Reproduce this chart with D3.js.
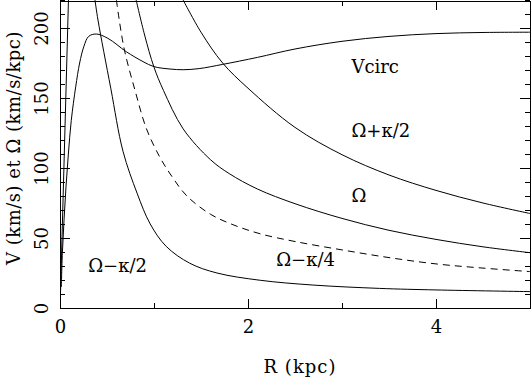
<!DOCTYPE html>
<html lang="en">
<meta charset="utf-8">
<style>
body { margin: 0; background: #fff; }
.axis path, .axis line { fill: none; stroke: #000; shape-rendering: crispEdges; }
.curve { fill: none; stroke: #000; stroke-width: 1; }
</style>
<body>
<script src="https://d3js.org/d3.v7.min.js"></script>
<script>
// chart size
var w = 531, h = 377;
var serif = "DejaVu Serif";
var fs = "18px";

// tick labels
var xTicks = [0, 2, 4];
var yTicks = [0, 50, 100, 150, 200];

// curves as [R, value]
var vcirc = [[0.014, 15], [0.025, 39], [0.043, 63], [0.064, 87], [0.089, 110], [0.12, 134],
  [0.167, 158], [0.209, 175], [0.255, 187], [0.305, 194], [0.386, 195.7], [0.51, 192.6],
  [0.707, 183], [0.883, 176], [1.0, 172.4], [1.17, 170.7], [1.31, 170.2], [1.48, 171],
  [1.73, 174], [2.1, 179], [2.5, 185], [3.0, 190.5], [3.5, 194], [4.0, 196], [4.5, 196.8], [5, 197]];

var omega = [[0.81, 220], [0.9, 195], [1.0, 172], [1.1, 155.5], [1.31, 128], [1.6, 106],
  [1.8, 96], [2.1, 85], [2.5, 74.5], [3, 64], [3.5, 55.5], [4, 49], [4.5, 43.7], [5, 39.5]];

var omegaPlusK2 = [[1.31, 220], [1.5, 197], [1.73, 175], [2.0, 157], [2.5, 129],
  [3, 109.5], [3.5, 95], [4, 84], [4.5, 75], [5, 67.5]];

var omegaMinusK4 = [[0.6, 220], [0.68, 186], [0.80, 155], [0.92, 128], [1.06, 108], [1.19, 94],
  [1.35, 80], [1.60, 67], [1.84, 59.5], [2.13, 53], [2.5, 47.5], [3, 41.5], [3.5, 36],
  [4, 31.5], [4.5, 28.5], [5, 26]];

// two pieces: it leaves the top of the frame near R=0.1 and comes back near R=0.37
var omegaMinusK2Inner = [[0.006, 12], [0.09, 220]];
var omegaMinusK2 = [[0.372, 220], [0.404, 205.7], [0.54, 157], [0.67, 112], [0.82, 82],
  [0.96, 60], [1.13, 44], [1.38, 32], [1.67, 25], [2.13, 19.8], [2.69, 16.4], [3.4, 14],
  [4, 12.9], [5, 11.7]];

var labels = [
  {t: "Vcirc", R: 3.1, v: 168},
  {t: "\u03A9+\u03BA/2", R: 3.1, v: 122},
  {t: "\u03A9", R: 3.1, v: 76},
  {t: "\u03A9\u2212\u03BA/4", R: 2.3, v: 30},
  {t: "\u03A9\u2212\u03BA/2", R: 0.3, v: 26}
];

var svg = d3.select("body").append("svg")
  .attr("width", w)
  .attr("height", h)
  .attr("font-family", serif);

var x = d3.scaleLinear().domain([0, 5]).range([60, 530]);
var y = d3.scaleLinear().domain([0, 220]).range([308, 0]);

svg.append("defs").append("clipPath").attr("id", "clip")
  .append("rect")
  .attr("x", x(0)).attr("y", y(220))
  .attr("width", x(5) - x(0)).attr("height", y(0) - y(220));

// axes, ticks pointing inward on all four sides
function noText(g) { g.selectAll("text").remove(); g.select(".domain").remove(); }
function serifText(g) {
  g.attr("font-family", serif).attr("font-size", null);
  g.selectAll("text").attr("fill", "#000").style("font-size", fs);
}

svg.append("g").attr("class", "axis")
  .attr("transform", "translate(0," + y(0) + ")")
  .call(d3.axisBottom(x).tickValues(xTicks).tickFormat(d3.format("d"))
    .tickSizeInner(-9).tickSizeOuter(0).tickPadding(12))
  .call(serifText);
svg.append("g").attr("class", "axis")
  .attr("transform", "translate(0," + y(0) + ")")
  .call(d3.axisBottom(x).tickValues([1, 3]).tickSizeInner(-5).tickSizeOuter(0))
  .call(noText);
svg.append("g").attr("class", "axis")
  .attr("transform", "translate(0," + (y(220) + 0.5) + ")")
  .call(d3.axisTop(x).tickValues(xTicks).tickSizeInner(-9).tickSizeOuter(0))
  .call(function(g) { g.selectAll("text").remove(); });
svg.append("g").attr("class", "axis")
  .attr("transform", "translate(0," + (y(220) + 0.5) + ")")
  .call(d3.axisTop(x).tickValues([1, 3]).tickSizeInner(-5).tickSizeOuter(0))
  .call(noText);

svg.append("g").attr("class", "axis")
  .attr("transform", "translate(" + x(0) + ",0)")
  .call(d3.axisLeft(y).tickValues(yTicks).tickFormat(d3.format("d"))
    .tickSizeInner(-10).tickSizeOuter(0))
  .call(serifText)
  .call(function(g) {
    g.selectAll("text")
      .attr("x", null).attr("dy", null)
      .attr("text-anchor", "middle")
      .attr("transform", "translate(-12,0) rotate(-90)");
  });
svg.append("g").attr("class", "axis")
  .attr("transform", "translate(" + x(0) + ",0)")
  .call(d3.axisLeft(y).tickValues(d3.range(0, 221, 10)).tickSizeInner(-5).tickSizeOuter(0))
  .call(noText);
svg.append("g").attr("class", "axis")
  .attr("transform", "translate(" + (x(5) - 0.5) + ",0)")
  .call(d3.axisRight(y).tickValues(yTicks).tickSizeInner(-10).tickSizeOuter(0))
  .call(function(g) { g.selectAll("text").remove(); });
svg.append("g").attr("class", "axis")
  .attr("transform", "translate(" + (x(5) - 0.5) + ",0)")
  .call(d3.axisRight(y).tickValues(d3.range(0, 221, 10)).tickSizeInner(-5).tickSizeOuter(0))
  .call(noText);

// curves
var line = d3.line()
  .x(function(d) { return x(d[0]); })
  .y(function(d) { return y(d[1]); })
  .curve(d3.curveCatmullRom.alpha(0.5));

var plot = svg.append("g").attr("clip-path", "url(#clip)");
plot.append("path").datum(vcirc).attr("class", "curve").attr("d", line);
plot.append("path").datum(omegaPlusK2).attr("class", "curve").attr("d", line);
plot.append("path").datum(omega).attr("class", "curve").attr("stroke-width", 2).attr("d", line);
plot.append("path").datum(omegaMinusK4).attr("class", "curve").attr("stroke-dasharray", "7,5").attr("d", line);
plot.append("path").datum(omegaMinusK2Inner).attr("class", "curve").attr("d", line);
plot.append("path").datum(omegaMinusK2).attr("class", "curve").attr("d", line);

// curve names
svg.selectAll(".lab")
  .data(labels)
  .enter()
  .append("text")
  .attr("class", "lab")
  .attr("x", function(d) { return x(d.R); })
  .attr("y", function(d) { return y(d.v); })
  .style("font-size", fs)
  .text(function(d) { return d.t; });

// axis titles
svg.append("text")
  .attr("x", 300).attr("y", 373)
  .attr("text-anchor", "middle")
  .style("font-size", fs)
  .style("letter-spacing", "1px")
  .text("R (kpc)");
svg.append("text")
  .attr("transform", "translate(20,148) rotate(-90)")
  .attr("text-anchor", "middle")
  .style("font-size", fs)
  .style("letter-spacing", "0.5px")
  .text("V (km/s) et \u03A9 (km/s/kpc)");
</script>
</body>
</html>
